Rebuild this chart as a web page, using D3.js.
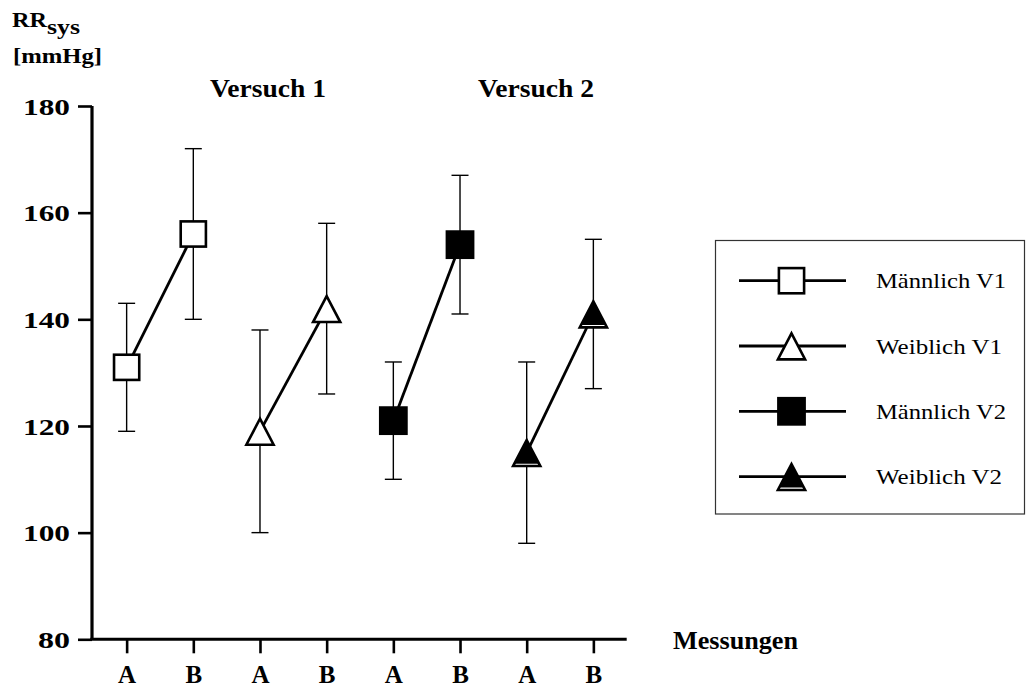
<!DOCTYPE html>
<html>
<head>
<meta charset="utf-8">
<script src="https://cdn.jsdelivr.net/npm/d3@7"></script>
<style>
  html, body { margin: 0; padding: 0; background: #fff; }
  svg { display: block; }
  svg text { font-family: "Times New Roman", "Liberation Serif", Tinos, serif; fill: #000; }
</style>
</head>
<body>
<svg id="chart" width="1027" height="690"></svg>
<script>
// Measurement slots along the x axis (A/B per group)
const measurements = ["A", "B", "A", "B", "A", "B", "A", "B"];
// Groups: name, marker shape, filled marker
const seriesNames = ["Männlich V1", "Weiblich V1", "Männlich V2", "Weiblich V2"];
const seriesShapes = ["square", "triangle", "square", "triangle"];
const seriesFilled = [false, false, true, true];
// Mean systolic blood pressure [mmHg] at measurement A and B
const meansA = [131, 119, 121, 115];
const meansB = [156, 142, 154, 141];
// Standard deviations at A and B
const sdA = [12, 19, 11, 17];
const sdB = [16, 16, 13, 14];
// Y axis ticks
const yTicks = [80, 100, 120, 140, 160, 180];
// Group headers
const groupLabels = ["Versuch 1", "Versuch 2"];

const svg = d3.select("#chart");
const serif = '"Times New Roman", "Liberation Serif", Tinos, serif';

const x = d3.scaleLinear().domain([-0.5, 7.5]).range([93.3, 626.7]);
const y = d3.scaleLinear().domain([80, 180]).range([639.3, 106]);

// ---- axes ----
const yAxis = d3.axisLeft(y).tickValues(yTicks).tickSize(14).tickPadding(8);
const gy = svg.append("g").attr("transform", `translate(${x(-0.5) - 1.3},0)`).call(yAxis);
gy.attr("font-family", serif);
gy.select(".domain").attr("d", `M0,${y(180)}V${y(80)}`).attr("stroke", "#000").attr("stroke-width", 3.2);
gy.selectAll(".tick line").attr("stroke", "#000").attr("stroke-width", 2.6);
gy.selectAll(".tick text")
  .attr("font-weight", "bold")
  .attr("font-size", 23)
  .attr("dy", "0.36em")
  .attr("x", -22)
  .each(function(d) {
    d3.select(this).attr("textLength", String(d).length === 3 ? 47 : 32)
      .attr("lengthAdjust", "spacingAndGlyphs");
  });

const xAxis = d3.axisBottom(x).tickValues(d3.range(measurements.length))
  .tickFormat(i => measurements[i]).tickSize(14).tickPadding(16);
const gx = svg.append("g").attr("transform", `translate(0,${y(80)})`).call(xAxis);
gx.attr("font-family", serif);
gx.select(".domain").attr("d", `M${x(-0.5) - 3},0H${x(7.5)}`).attr("stroke", "#000").attr("stroke-width", 3);
gx.selectAll(".tick line").attr("stroke", "#000").attr("stroke-width", 2.6);
gx.selectAll(".tick text")
  .attr("font-weight", "bold")
  .attr("font-size", 25)
  .attr("dy", "0")
  .attr("y", 44);

// ---- titles ----
const title = svg.append("text").attr("x", 12).attr("y", 27)
  .attr("font-weight", "bold").attr("font-size", 21);
title.append("tspan").text("RR").attr("textLength", 35).attr("lengthAdjust", "spacingAndGlyphs");
title.append("tspan").text("sys").attr("dy", 7).attr("font-size", 21)
  .attr("textLength", 33).attr("lengthAdjust", "spacingAndGlyphs");
svg.append("text").attr("x", 13).attr("y", 63).attr("font-weight", "bold").attr("font-size", 21)
  .attr("textLength", 89).attr("lengthAdjust", "spacingAndGlyphs").text("[mmHg]");

const groupLabelX = [210, 478];
groupLabels.forEach((t, i) => {
  svg.append("text").attr("x", groupLabelX[i]).attr("y", 96.5)
    .attr("font-weight", "bold").attr("font-size", 25)
    .attr("textLength", 116).attr("lengthAdjust", "spacingAndGlyphs").text(t);
});

svg.append("text").attr("x", 673).attr("y", 649).attr("font-weight", "bold").attr("font-size", 25)
  .attr("textLength", 125).attr("lengthAdjust", "spacingAndGlyphs").text("Messungen");

// ---- marker drawing ----
function drawMarker(g, shape, filled) {
  if (shape === "square") {
    if (filled) {
      g.append("rect").attr("x", -13.2).attr("y", -13.2).attr("width", 26.4).attr("height", 26.4)
        .attr("fill", "#000").attr("stroke", "#000").attr("stroke-width", 2.4);
    } else {
      g.append("rect").attr("x", -12.6).attr("y", -12.6).attr("width", 25.2).attr("height", 25.2)
        .attr("fill", "#fff").attr("stroke", "#000").attr("stroke-width", 2.6);
    }
  } else {
    const tri = d3.line()([[0, -12.6], [13.6, 13.4], [-13.6, 13.4]]) + "Z";
    g.append("path").attr("d", tri).attr("fill", "#fff").attr("stroke", "#000")
      .attr("stroke-width", 2.6).attr("stroke-linejoin", "miter");
    if (filled) {
      const f = (11 + 12.6) / (13.4 + 12.6);
      const inner = d3.line()([[0, -12.6], [13.6 * f, 11], [-13.6 * f, 11]]) + "Z";
      g.append("path").attr("d", inner).attr("fill", "#000");
    }
  }
}

// ---- error bars, connecting lines, markers ----
const plot = svg.append("g");
seriesNames.forEach((name, k) => {
  const pts = [
    { i: 2 * k, m: meansA[k], s: sdA[k] },
    { i: 2 * k + 1, m: meansB[k], s: sdB[k] }
  ];
  const g = plot.append("g");
  pts.forEach(p => {
    const cx = x(p.i);
    g.append("line").attr("x1", cx).attr("x2", cx).attr("y1", y(p.m + p.s)).attr("y2", y(p.m - p.s))
      .attr("stroke", "#000").attr("stroke-width", 1.4);
    [p.m + p.s, p.m - p.s].forEach(v => {
      g.append("line").attr("x1", cx - 8.5).attr("x2", cx + 8.5).attr("y1", y(v)).attr("y2", y(v))
        .attr("stroke", "#000").attr("stroke-width", 1.4);
    });
  });
  g.append("path").attr("d", d3.line().x(p => x(p.i)).y(p => y(p.m))(pts))
    .attr("fill", "none").attr("stroke", "#000").attr("stroke-width", 2.8);
  pts.forEach(p => {
    const mg = g.append("g").attr("transform", `translate(${x(p.i)},${y(p.m)})`);
    drawMarker(mg, seriesShapes[k], seriesFilled[k]);
  });
});

// ---- legend ----
const legend = svg.append("g");
legend.append("rect").attr("x", 715.5).attr("y", 240.5).attr("width", 309).attr("height", 273.5)
  .attr("fill", "#fff").attr("stroke", "#333").attr("stroke-width", 1.2);
const legendTextLen = [130, 126, 130, 126];
seriesNames.forEach((name, k) => {
  const ly = 280.7 + k * 65.3;
  legend.append("line").attr("x1", 739).attr("x2", 846).attr("y1", ly).attr("y2", ly)
    .attr("stroke", "#000").attr("stroke-width", 2.8);
  const mg = legend.append("g").attr("transform", `translate(791.5,${ly})`);
  drawMarker(mg, seriesShapes[k], seriesFilled[k]);
  legend.append("text").attr("x", 876).attr("y", ly + 7.5).attr("font-size", 21)
    .attr("textLength", legendTextLen[k]).attr("lengthAdjust", "spacingAndGlyphs").text(name);
});
</script>
</body>
</html>
